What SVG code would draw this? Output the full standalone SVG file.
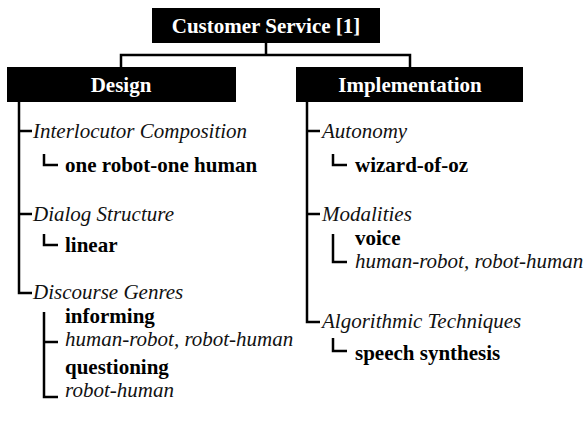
<svg xmlns="http://www.w3.org/2000/svg" width="588" height="421" viewBox="0 0 588 421">
<style>
.ht{font-weight:bold;fill:#fff;text-anchor:middle}
.it{font-style:italic;fill:#111}
.bd{font-weight:bold;fill:#000}
.box{fill:#000}
.ln{fill:none;stroke:#000;stroke-width:2.5}
</style>
<rect width="588" height="421" fill="#fff"/>
<g id="connectors">
<path class="ln" d="M266 43V55M121 67V55H410V67"/>
<path class="ln" d="M19 102V293H32M19 131H32M19 214H32"/>
<path class="ln" d="M44 154V165H58M44 234V245H58M44 312V397H58M44 342H58"/>
<path class="ln" d="M307 102V322H320M307 131H320M307 214H320"/>
<path class="ln" d="M333 154V165H347M333 234V262H347M333 338V351H347"/>
</g>
<g font-family="Liberation Serif, Tinos, Times New Roman, DejaVu Serif, serif" font-size="21">
<g id="root"><rect class="box" x="152" y="8" width="228" height="35"/><text class="ht" x="266" y="33">Customer Service [1]</text></g>
<g id="design"><rect class="box" x="7" y="67" width="229" height="35"/><text class="ht" x="121" y="92">Design</text></g>
<g id="implementation"><rect class="box" x="296" y="67" width="227" height="35"/><text class="ht" x="410" y="92">Implementation</text></g>
<g id="interlocutor"><text class="it" x="33" y="138">Interlocutor Composition</text></g>
<g id="one-robot"><text class="bd" x="65" y="172">one robot-one human</text></g>
<g id="dialog"><text class="it" x="33" y="221">Dialog Structure</text></g>
<g id="linear"><text class="bd" x="65" y="252">linear</text></g>
<g id="discourse"><text class="it" x="33" y="299">Discourse Genres</text></g>
<g id="informing"><text class="bd" x="65" y="323">informing</text><text class="it" x="65" y="346">human-robot, robot-human</text></g>
<g id="questioning"><text class="bd" x="65" y="374">questioning</text><text class="it" x="65" y="397">robot-human</text></g>
<g id="autonomy"><text class="it" x="322" y="138">Autonomy</text></g>
<g id="wizard"><text class="bd" x="355" y="172">wizard-of-oz</text></g>
<g id="modalities"><text class="it" x="322" y="221">Modalities</text></g>
<g id="voice"><text class="bd" x="355" y="245">voice</text><text class="it" x="355" y="268">human-robot, robot-human</text></g>
<g id="algorithmic"><text class="it" x="322" y="328">Algorithmic Techniques</text></g>
<g id="speech"><text class="bd" x="355" y="360">speech synthesis</text></g>
</g>
</svg>
